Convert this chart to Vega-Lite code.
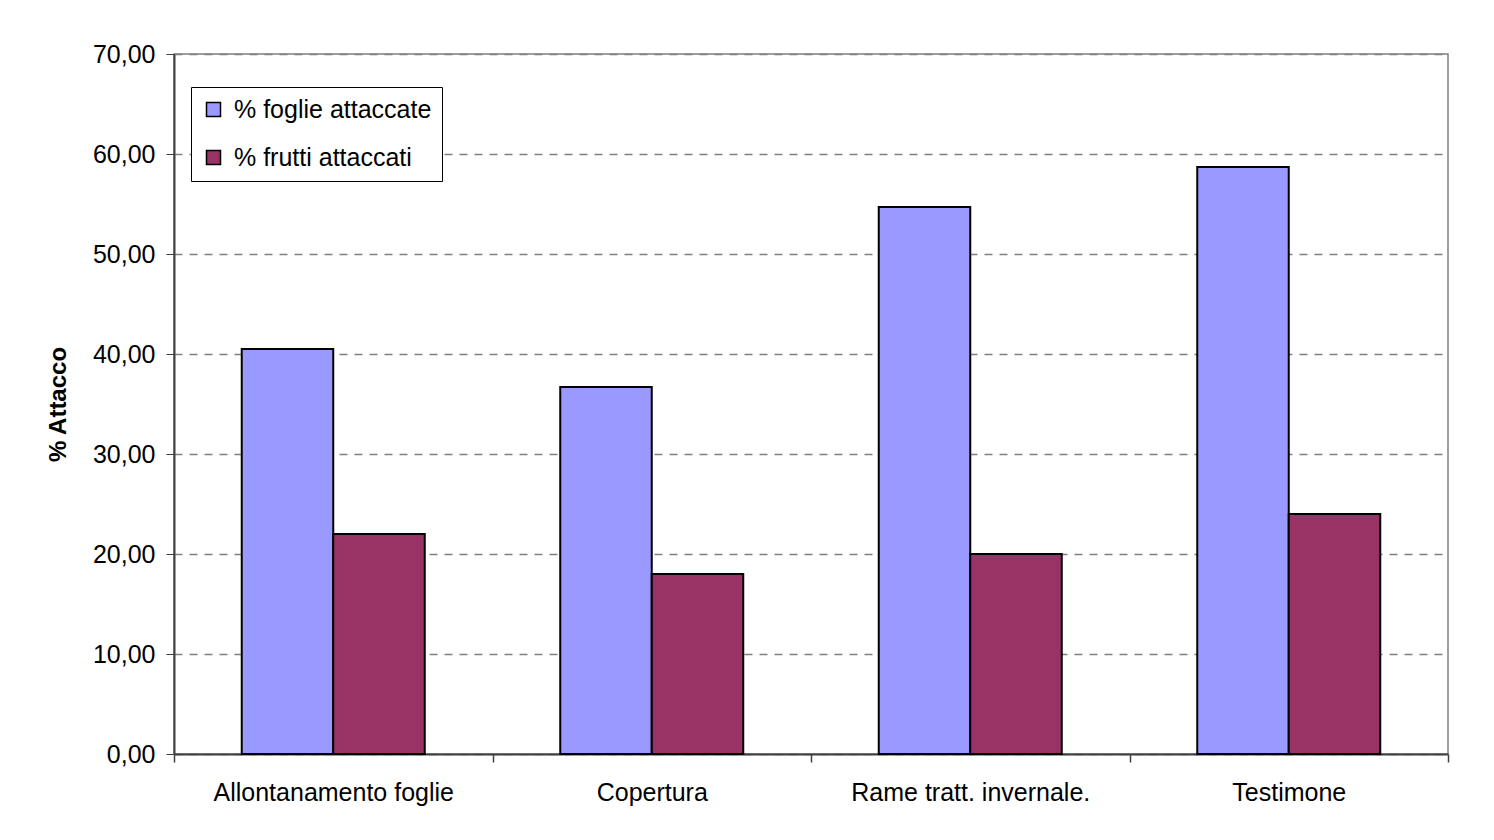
{
  "$schema": "https://vega.github.io/schema/vega-lite/v6.json",
  "autosize": "none",
  "width": 1274,
  "height": 700,
  "padding": {"left": 174, "top": 54, "right": 46, "bottom": 86},
  "background": "white",
  "data": {
    "values": [
      {"trattamento": "Allontanamento foglie", "serie": "% foglie attaccate", "valore": 40.5},
      {"trattamento": "Allontanamento foglie", "serie": "% frutti attaccati", "valore": 22.0},
      {"trattamento": "Copertura", "serie": "% foglie attaccate", "valore": 36.7},
      {"trattamento": "Copertura", "serie": "% frutti attaccati", "valore": 18.0},
      {"trattamento": "Rame tratt. invernale.", "serie": "% foglie attaccate", "valore": 54.7},
      {"trattamento": "Rame tratt. invernale.", "serie": "% frutti attaccati", "valore": 20.0},
      {"trattamento": "Testimone", "serie": "% foglie attaccate", "valore": 58.7},
      {"trattamento": "Testimone", "serie": "% frutti attaccati", "valore": 24.0}
    ]
  },
  "mark": {"type": "bar", "stroke": "black", "strokeWidth": 2},
  "encoding": {
    "x": {
      "field": "trattamento",
      "type": "nominal",
      "sort": null,
      "scale": {"paddingInner": 0, "paddingOuter": 0},
      "axis": {
        "title": null,
        "labelAngle": 0,
        "labelFont": "Liberation Sans",
        "labelFontSize": 25,
        "labelColor": "black",
        "labelPadding": 18,
        "labelLimit": 0,
        "tickBand": "extent",
        "tickSize": 8,
        "tickColor": "#404040",
        "domainColor": "#404040",
        "domainWidth": 2,
        "tickWidth": 1.5
      }
    },
    "xOffset": {
      "field": "serie",
      "type": "nominal",
      "scale": {"paddingInner": 0, "paddingOuter": 0.7404}
    },
    "y": {
      "field": "valore",
      "type": "quantitative",
      "scale": {"domain": [0, 70], "nice": false},
      "axis": {
        "title": "% Attacco",
        "titleFont": "Liberation Sans",
        "titleFontSize": 24,
        "titleFontWeight": "bold",
        "titleColor": "black",
        "titlePadding": 22,
        "values": [0, 10, 20, 30, 40, 50, 60, 70],
        "labelExpr": "replace(format(datum.value, '.2f'), '.', ',')",
        "labelFont": "Liberation Sans",
        "labelFontSize": 25,
        "labelColor": "black",
        "labelPadding": 11,
        "tickSize": 8,
        "tickColor": "#404040",
        "domainColor": "#404040",
        "domainWidth": 2,
        "grid": true,
        "gridColor": "#808080",
        "gridDash": [8, 7],
        "gridWidth": 1.5
      }
    },
    "color": {
      "field": "serie",
      "type": "nominal",
      "scale": {"domain": ["% foglie attaccate", "% frutti attaccati"], "range": ["#9999FF", "#993366"]},
      "legend": {
        "title": null,
        "orient": "none",
        "legendX": 17,
        "legendY": 33,
        "symbolType": "square",
        "symbolSize": 196,
        "symbolStrokeColor": "black",
        "symbolStrokeWidth": 1.5,
        "labelFont": "Liberation Sans",
        "labelFontSize": 25,
        "labelColor": "black",
        "labelOffset": 8,
        "labelLimit": 0,
        "rowPadding": 22,
        "strokeColor": "black",
        "fillColor": "white",
        "padding": 10
      }
    }
  },
  "config": {
    "view": {"stroke": "#808080", "strokeWidth": 1.5}
  }
}
